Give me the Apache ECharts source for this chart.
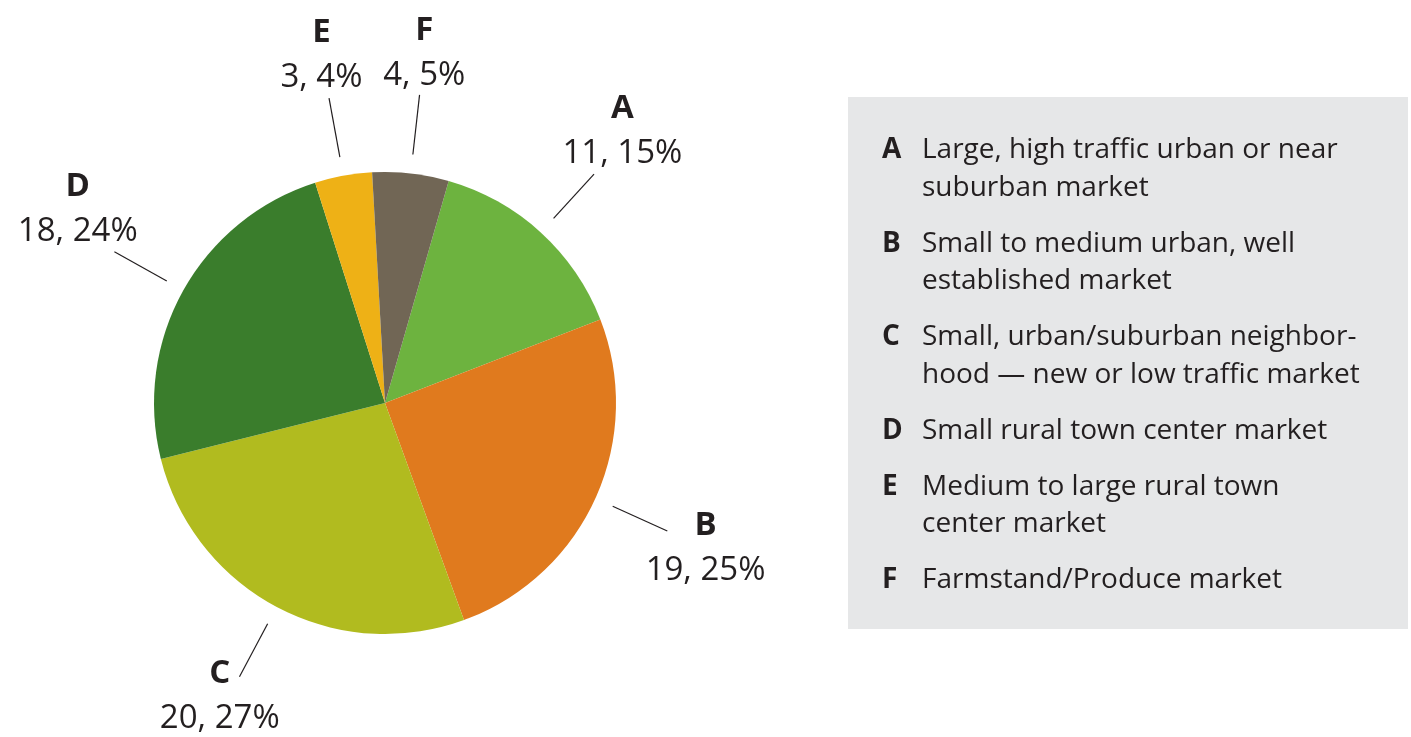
<!DOCTYPE html>
<html>
<head>
<meta charset="utf-8">
<title>Market types</title>
<script src="https://cdn.jsdelivr.net/npm/echarts@6/dist/echarts.min.js"></script>
<style>
  html, body { margin: 0; padding: 0; background: #ffffff; }
  #chart { width: 1411px; height: 737px; }
</style>
</head>
<body>
<div id="chart"></div>
<script>
// Market categories, counts and their descriptions
const categories = ['A', 'B', 'C', 'D', 'E', 'F'];
const values = [11, 19, 20, 18, 3, 4];
const descriptions = [
  'Large, high traffic urban or near\nsuburban market',
  'Small to medium urban, well\nestablished market',
  'Small, urban/suburban neighbor-\nhood \u2014 new or low traffic market',
  'Small rural town center market',
  'Medium to large rural town\ncenter market',
  'Farmstand/Produce market'
];
const colors = ['#6db33f', '#e07a1e', '#b1bb1f', '#3a7d2c', '#eeb116', '#716655'];

const FONT = '"Open Sans", "Noto Sans", sans-serif';
const INK = '#231f20';
const W = 1411, H = 737;
const PIE_CENTER = [385, 403];
const PIE_RADIUS = 231;
const LABEL_SIZE = 33, LABEL_ROW = 45;
const total = values.reduce((s, v) => s + v, 0);

function valueText(i) {
  return values[i] + ', ' + Math.round(values[i] / total * 100) + '%';
}

// Text widths for the label collision checks
const measureCtx = document.createElement('canvas').getContext('2d');
function textWidth(str, weight) {
  measureCtx.font = (weight || 'normal') + ' ' + LABEL_SIZE + 'px ' + FONT;
  return measureCtx.measureText(str).width;
}

// Leader lines: radial, starting a little off the rim. Each label block is put as
// close as possible to a spot just beyond its line, without the line running
// through the text, without touching the pie, other labels or the canvas edge.
const placed = [];
const LINE_GAP = 19, LINE_LEN = 60, LABEL_AHEAD = 42, PAD = 7, CAP_HALF = 12;

function rowRects(i, cx, cy) {
  const lw = textWidth(categories[i], 'bold') / 2;
  const vw = textWidth(valueText(i), 'normal') / 2;
  return [
    [cx - lw, cy - LABEL_ROW / 2 - CAP_HALF, cx + lw, cy - LABEL_ROW / 2 + CAP_HALF],
    [cx - vw, cy + LABEL_ROW / 2 - CAP_HALF, cx + vw, cy + LABEL_ROW / 2 + CAP_HALF]
  ];
}
function inRect(px, py, r, pad) {
  return px > r[0] - pad && px < r[2] + pad && py > r[1] - pad && py < r[3] + pad;
}
function rectsOverlap(a, b, pad) {
  return a[0] < b[2] + pad && b[0] < a[2] + pad && a[1] < b[3] + pad && b[1] < a[3] + pad;
}
function rectCircleDist(r, cx, cy) {
  const nx = Math.max(r[0], Math.min(cx, r[2]));
  const ny = Math.max(r[1], Math.min(cy, r[3]));
  return Math.hypot(nx - cx, ny - cy);
}

function layoutLabel(p) {
  const pts = p.labelLinePoints;
  if (!pts || pts.length < 2) return {};
  const i = p.dataIndex;
  if (i === 0) placed.length = 0;
  const x0 = pts[0][0], y0 = pts[0][1];
  const ddx = pts[1][0] - x0, ddy = pts[1][1] - y0;
  const len = Math.hypot(ddx, ddy) || 1;
  const ux = ddx / len, uy = ddy / len;
  const s = [x0 + ux * LINE_GAP, y0 + uy * LINE_GAP];
  const e = [x0 + ux * (LINE_GAP + LINE_LEN), y0 + uy * (LINE_GAP + LINE_LEN)];
  const tx = e[0] + ux * LABEL_AHEAD, ty = e[1] + uy * LABEL_AHEAD;

  let best = [tx, ty], bestCost = Infinity;
  for (let dx = -160; dx <= 160; dx += 2) {
    for (let dy = -160; dy <= 160; dy += 2) {
      const cost = Math.hypot(dx, dy);
      if (cost >= bestCost) continue;
      const cx = tx + dx, cy = ty + dy;
      const rs = rowRects(i, cx, cy);
      let ok = true;
      for (const r of rs) {
        if (r[0] < 4 || r[2] > W - 4 || r[1] < 6 || r[3] > H - 6) { ok = false; break; }
        if (rectCircleDist(r, PIE_CENTER[0], PIE_CENTER[1]) < PIE_RADIUS + 12) { ok = false; break; }
        for (const q of placed) { if (rectsOverlap(r, q, 8)) { ok = false; break; } }
        if (!ok) break;
        for (let k = 0; k <= 30; k++) {
          const px = s[0] + (e[0] - s[0]) * k / 30, py = s[1] + (e[1] - s[1]) * k / 30;
          if (inRect(px, py, r, PAD)) { ok = false; break; }
        }
        if (!ok) break;
      }
      if (ok) { best = [cx, cy]; bestCost = cost; }
    }
  }
  placed.push(...rowRects(i, best[0], best[1]));
  return {
    x: best[0],
    y: best[1],
    align: 'center',
    verticalAlign: 'middle',
    labelLinePoints: [s, e, e]
  };
}

const chart = echarts.init(document.getElementById('chart'), null, { renderer: 'canvas' });

const option = {
  animation: false,
  backgroundColor: '#ffffff',
  graphic: [{
    type: 'rect',
    z: 0,
    shape: { x: 848, y: 97, width: 560, height: 532 },
    style: { fill: '#e6e7e8' }
  }],
  legend: {
    z: 10,
    orient: 'vertical',
    left: 877,
    top: 131.5,
    padding: 0,
    itemGap: 18.5,
    itemWidth: 0,
    itemHeight: 0,
    icon: 'none',
    selectedMode: false,
    data: categories,
    formatter: function (name) {
      const idx = categories.indexOf(name);
      const lines = descriptions[idx].split('\n');
      return lines.map((ln, k) => (k === 0 ? '{k|' + name + '}' : '{k| }') + '{t|' + ln + '}').join('\n');
    },
    textStyle: {
      color: INK,
      fontFamily: FONT,
      fontSize: 28,
      lineHeight: 37.5,
      rich: {
        k: { width: 40, fontWeight: 'bold', fontFamily: FONT, fontSize: 28, lineHeight: 37.5, color: INK },
        t: { fontFamily: FONT, fontSize: 28, lineHeight: 37.5, color: INK }
      }
    }
  },
  series: [{
    type: 'pie',
    center: PIE_CENTER,
    radius: PIE_RADIUS,
    startAngle: 74,
    clockwise: true,
    avoidLabelOverlap: false,
    emphasis: { scale: false },
    itemStyle: { borderWidth: 0 },
    data: categories.map((c, i) => ({ name: c, value: values[i], itemStyle: { color: colors[i] } })),
    label: {
      show: true,
      position: 'outside',
      color: INK,
      fontFamily: FONT,
      formatter: function (p) {
        return '{l|' + p.name + '}\n{v|' + valueText(p.dataIndex) + '}';
      },
      rich: {
        l: { fontFamily: FONT, fontWeight: 'bold', fontSize: LABEL_SIZE, lineHeight: LABEL_ROW, color: INK, align: 'center' },
        v: { fontFamily: FONT, fontSize: LABEL_SIZE, lineHeight: LABEL_ROW, color: INK, align: 'center' }
      }
    },
    labelLine: {
      show: true,
      length: 20,
      length2: 0,
      smooth: false,
      lineStyle: { color: INK, width: 1.2 }
    },
    labelLayout: layoutLabel
  }]
};

chart.setOption(option);
</script>
</body>
</html>
